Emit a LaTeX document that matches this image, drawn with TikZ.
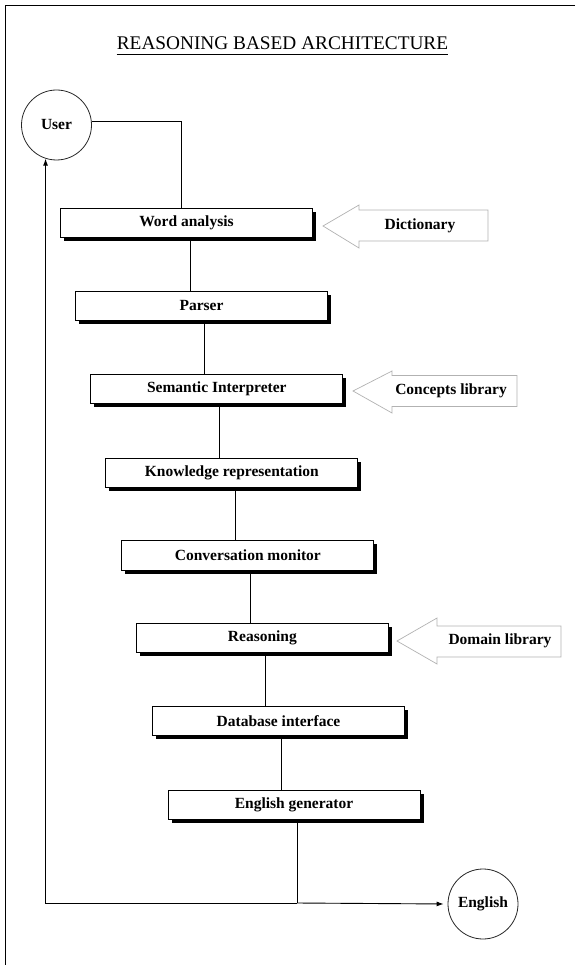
\documentclass[tikz,border=0pt]{standalone}
\usepackage{fontspec}
\setmainfont{Liberation Serif}
\usetikzlibrary{arrows.meta,shadows}
\begin{document}
\begin{tikzpicture}[x=1pt,y=-1pt,
  lbl/.style={font=\bfseries\fontsize{15.5}{18}\selectfont},
  stage/.style={lbl,draw,line width=0.9pt,fill=white,minimum width=252pt,minimum height=29.5pt,inner sep=0pt,
    drop shadow={shadow xshift=3.5pt,shadow yshift=-3.5pt,fill=black,opacity=1}},
  term/.style={lbl,circle,draw=black!85,line width=0.8pt,minimum size=70pt,inner sep=0pt},
  link/.style={line width=0.9pt},
  arr/.style={link,-{Latex[length=7pt,width=5pt]}},
  libarrow/.style={draw=gray!60,line width=0.7pt,fill=white,line join=miter}
]
\useasboundingbox (0,0) rectangle (575,965);
\draw[line width=0.9pt] (575,5) -- (5,5) -- (5,965);

% title
\node[anchor=base,inner sep=0pt,font=\fontsize{19.3}{22}\selectfont] (title) at (282.5,50) {REASONING BASED ARCHITECTURE};
\draw[line width=0.8pt] ([yshift=-4pt]title.base west) -- ([yshift=-4pt]title.base east);

% terminals
\node[term] (user) at (56.5,125) {User};
\node[term] (english) at (483,904) {English};

% stages
\node[stage] (wa) at (186.5,223) {Word analysis};
\node[stage] (pa) at (201.5,306) {Parser};
\node[stage] (si) at (216.8,389) {Semantic Interpreter};
\node[stage] (kr) at (231.8,473) {Knowledge representation};
\node[stage] (cm) at (247.9,555.5) {Conversation monitor};
\node[stage] (re) at (262.4,638) {Reasoning};
\node[stage] (di) at (278.5,721) {Database interface};
\node[stage] (eg) at (294,805) {English generator};

% library block arrows
\draw[libarrow] (323,226) -- (359,205) -- (359,210) -- (488,210) -- (488,241) -- (359,241) -- (359,248) -- cycle;
\node[lbl] (dict) at (420,225.5) {Dictionary};
\draw[libarrow] (353,391) -- (392,371) -- (392,375.5) -- (517,375.5) -- (517,406.5) -- (392,406.5) -- (392,413) -- cycle;
\node[lbl] (conc) at (451,391) {Concepts library};
\draw[libarrow] (397,641) -- (437,618) -- (437,626) -- (561,626) -- (561,657) -- (437,657) -- (437,664) -- cycle;
\node[lbl] (dom) at (500,641) {Domain library};

% connectors
\draw[link] (user.5) -| ([xshift=-5pt]wa.north);
\draw[link] ([xshift=3.5pt]wa.south) -- ([xshift=3.5pt]wa.south |- pa.north);
\draw[link] ([xshift=3pt]pa.south) -- ([xshift=3pt]pa.south |- si.north);
\draw[link] ([xshift=3pt]si.south) -- ([xshift=3pt]si.south |- kr.north);
\draw[link] ([xshift=3.5pt]kr.south) -- ([xshift=3.5pt]kr.south |- cm.north);
\draw[link] ([xshift=3pt]cm.south) -- ([xshift=3pt]cm.south |- re.north);
\draw[link] ([xshift=3.5pt]re.south) -- ([xshift=3.5pt]re.south |- di.north);
\draw[link] ([xshift=3pt]di.south) -- ([xshift=3pt]di.south |- eg.north);
\coordinate (j) at (297,903);
\draw[link] ([xshift=3pt]eg.south) -- (j);
\draw[arr,shorten >=4pt] (j) -- (english.west);
\draw[arr] (j) -| (user.252);
\end{tikzpicture}
\end{document}
